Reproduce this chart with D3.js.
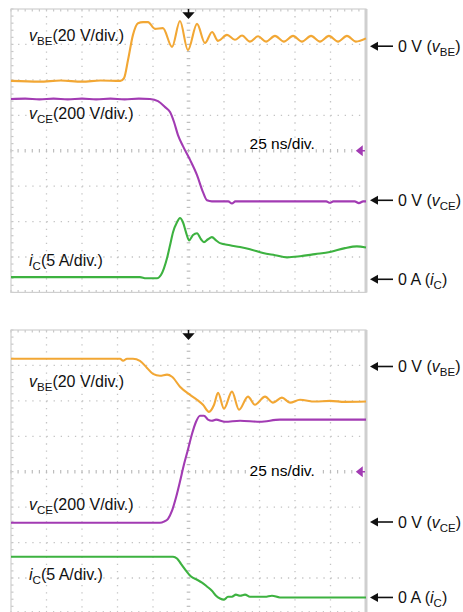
<!DOCTYPE html>
<html>
<head>
<meta charset="utf-8">
<script src="https://cdn.jsdelivr.net/npm/d3@7"></script>
<style>
  body { margin: 0; background: #fff; }
  text { font-family: "Liberation Sans", Arial, Helvetica, sans-serif; }
</style>
</head>
<body>
<div id="container"></div>
<script>
// time in ns (25 ns/div, 10 div), values in scope divisions (0 = centre line)
var onVbe = [[0,1.97],[20,1.95],[35,1.98],[50,1.95],[63,1.98],[77,1.97],[79.6,2.05],[82.4,2.56],[85.9,3.27],[89.4,3.60],[93,3.63],[96.5,3.63],[101.4,3.44],[107,3.46],[113.4,2.93],[119,3.66],[124.6,2.84],[131,3.58],[136.6,3.04],[141.6,3.35],[145.8,3.10],[152.1,3.27],[157.7,3.13],[162.7,3.25],[168.3,3.08],[174,3.23],[179.6,3.08],[185.9,3.24],[192.2,3.08],[198.6,3.24],[204.9,3.08],[211.3,3.24],[217.6,3.08],[223.9,3.24],[230.3,3.08],[236.6,3.24],[242.9,3.08],[250,3.17]];
var onVce = [[0,1.46],[10,1.47],[20,1.45],[30,1.47],[40,1.45],[50,1.47],[60,1.45],[70,1.47],[80,1.45],[90,1.47],[97.9,1.46],[103.5,1.40],[108.5,1.23],[112,1.09],[114.8,0.81],[117.6,0.44],[121.1,0.13],[126.1,-0.26],[131,-0.69],[135.2,-1.17],[138,-1.40],[141.5,-1.43],[153,-1.43],[155.6,-1.49],[158,-1.43],[222,-1.43],[224.6,-1.47],[227,-1.43],[242,-1.43],[245,-1.48],[248,-1.43],[250,-1.43]];
var onIc = [[0,-3.57],[90.8,-3.57],[95.1,-3.60],[102.8,-3.60],[105.6,-3.51],[107.7,-3.32],[109.9,-3.03],[112,-2.67],[114.1,-2.30],[116.9,-2.02],[119,-1.90],[121.1,-2.02],[123.2,-2.30],[125.4,-2.53],[128.2,-2.38],[131,-2.33],[133.8,-2.50],[135.9,-2.58],[138.7,-2.50],[141.5,-2.44],[144.4,-2.53],[147.2,-2.61],[154.2,-2.67],[161.3,-2.72],[168.3,-2.78],[177.5,-2.89],[185.9,-2.95],[194.4,-3.01],[203.5,-2.98],[214.1,-2.92],[224.6,-2.86],[235.2,-2.75],[243.6,-2.70],[250,-2.73]];

var offVbe = [[0,3.19],[76.8,3.19],[78.9,3.13],[81.7,3.19],[85.9,3.19],[90.8,3.13],[95.8,2.93],[100,2.76],[104.9,2.71],[109.9,2.74],[113.4,2.68],[119,2.40],[126.1,2.17],[131,2.03],[135.2,1.89],[139.4,1.69],[143,1.89],[145.8,2.23],[150,1.78],[155.6,2.26],[160.6,1.75],[166.9,2.12],[171.8,1.89],[178.9,2.12],[184.5,1.95],[190.8,2.09],[196.5,1.95],[203.5,2.03],[214.1,1.98],[224.6,2.00],[235.2,1.97],[250,1.98]];
var offVce = [[0,-1.44],[62.7,-1.44],[104.9,-1.44],[107.7,-1.41],[110.6,-1.33],[113.4,-1.10],[116.2,-0.73],[119,-0.28],[121.8,0.20],[124.6,0.62],[127.5,1.07],[130.3,1.41],[133.1,1.58],[135.9,1.58],[138.7,1.47],[141.5,1.44],[144.4,1.47],[150.7,1.41],[161.3,1.44],[175.3,1.41],[189.4,1.47],[203.5,1.47],[224.6,1.47],[250,1.47]];
var offIc = [[0,-2.40],[114.1,-2.40],[116.9,-2.45],[119.7,-2.60],[123.2,-2.79],[126.8,-2.96],[131,-3.05],[134.5,-3.13],[138,-3.24],[141.5,-3.36],[144.4,-3.50],[147.2,-3.58],[150,-3.61],[152.8,-3.53],[155.6,-3.53],[158.4,-3.47],[161.3,-3.50],[164.8,-3.47],[168.3,-3.53],[178.9,-3.53],[183.8,-3.50],[189.4,-3.55],[250,-3.55]];

// labels: [scope label text, subscript, scale], ground markers in divisions
var traceNames = ["BE", "CE", "C"];
var traceScales = ["(20 V/div.)", "(200 V/div.)", "(5 A/div.)"];
var groundText = ["0 V (", "0 V (", "0 A ("];
var onLabelLevels = [3.10, 0.89, -3.26];
var onGround = [2.95, -1.40, -3.63];
var offLabelLevels = [2.39, -1.08, -3.05];
var offGround = [2.97, -1.42, -3.55];

var colors = ["#f2a734", "#a23bb3", "#3db240"];

var width = 463, height = 612;
var svg = d3.select("#container").append("svg")
    .attr("width", width)
    .attr("height", height);

var panels = [
  {top: 9, series: [onVbe, onVce, onIc], labels: onLabelLevels, ground: onGround, nsLevel: 0.04},
  {top: 330, series: [offVbe, offVce, offIc], labels: offLabelLevels, ground: offGround, nsLevel: -0.12}
];

var left = 11, right = 366, panelH = 283.4;

panels.forEach(function (p) {
  var x = d3.scaleLinear().domain([0, 250]).range([left, right]);
  var y = d3.scaleLinear().domain([-4, 4]).range([p.top + panelH, p.top]);
  var g = svg.append("g");
  var minorX = 25 / 5, minorY = 0.2;

  // dotted grid
  d3.range(1, 10).filter(function (k) { return k != 5; }).forEach(function (k) {
    g.append("line")
      .attr("x1", x(k * 25)).attr("x2", x(k * 25))
      .attr("y1", y(4)).attr("y2", y(-4))
      .attr("stroke", "#c4c4c4").attr("stroke-width", 1.3)
      .attr("stroke-dasharray", "1.3," + (y(3.8) - y(4) - 1.3));
  });
  d3.range(-3, 4).filter(function (k) { return k != 0; }).forEach(function (k) {
    g.append("line")
      .attr("y1", y(k)).attr("y2", y(k))
      .attr("x1", x(0)).attr("x2", x(250))
      .attr("stroke", "#c4c4c4").attr("stroke-width", 1.3)
      .attr("stroke-dasharray", "1.3," + (x(5) - x(0) - 1.3));
  });

  // centre crosshair ticks
  d3.range(0, 250.1, minorX).forEach(function (t) {
    g.append("line")
      .attr("x1", x(t)).attr("x2", x(t))
      .attr("y1", y(0) - 1.8).attr("y2", y(0) + 1.8)
      .attr("stroke", "#bdbdbd").attr("stroke-width", 1.2);
    g.append("line")
      .attr("x1", x(t)).attr("x2", x(t))
      .attr("y1", y(4)).attr("y2", y(4) + 2.5)
      .attr("stroke", "#c8c8c8").attr("stroke-width", 1.2);
    g.append("line")
      .attr("x1", x(t)).attr("x2", x(t))
      .attr("y1", y(-4)).attr("y2", y(-4) - 2.5)
      .attr("stroke", "#c8c8c8").attr("stroke-width", 1.2);
  });
  d3.range(-4, 4.01, minorY).forEach(function (v) {
    g.append("line")
      .attr("y1", y(v)).attr("y2", y(v))
      .attr("x1", x(125) - 1.8).attr("x2", x(125) + 1.8)
      .attr("stroke", "#bdbdbd").attr("stroke-width", 1.2);
    g.append("line")
      .attr("y1", y(v)).attr("y2", y(v))
      .attr("x1", x(0)).attr("x2", x(0) + 2.5)
      .attr("stroke", "#c8c8c8").attr("stroke-width", 1.2);
  });

  // frame
  g.append("rect")
    .attr("x", x(0)).attr("y", y(4))
    .attr("width", x(250) - x(0)).attr("height", y(-4) - y(4))
    .attr("fill", "none").attr("stroke", "#cfcfcf").attr("stroke-width", 1.2);
  g.append("line")
    .attr("x1", x(250)).attr("x2", x(250))
    .attr("y1", y(4)).attr("y2", y(-4))
    .attr("stroke", "#cfcfcf").attr("stroke-width", 3);

  // time base text
  g.append("rect")
    .attr("x", x(167)).attr("y", y(p.nsLevel) - 11)
    .attr("width", 72).attr("height", 11)
    .attr("fill", "#fff");
  g.append("text")
    .attr("x", x(168)).attr("y", y(p.nsLevel))
    .attr("font-size", 15.5)
    .text("25 ns/div.");

  // trigger markers
  g.append("path")
    .attr("d", "M" + x(125) + "," + y(4) + "v4 m-4.5,0 h9 l-4.5,5 z")
    .attr("fill", "#111").attr("stroke", "#111").attr("stroke-width", 1.5);
  g.append("path")
    .attr("d", "M" + (x(250) - 1) + "," + y(0) + "h-3 m0,-4 v8 l-5,-4 z")
    .attr("fill", colors[1]).attr("stroke", colors[1]).attr("stroke-width", 1.5);

  // traces
  var line = d3.line()
    .x(function (d) { return x(d[0]); })
    .y(function (d) { return y(d[1]); })
    .curve(d3.curveMonotoneX);

  p.series.forEach(function (s, i) {
    g.append("path")
      .datum(s)
      .attr("d", line)
      .attr("fill", "none")
      .attr("stroke", colors[i])
      .attr("stroke-width", 2.1)
      .attr("stroke-linejoin", "round");
  });

  // trace labels
  traceNames.forEach(function (name, i) {
    var t = g.append("text")
      .attr("x", x(12.7)).attr("y", y(p.labels[i]))
      .attr("font-size", 16).attr("fill", "#111");
    t.append("tspan").attr("font-style", "italic").text(i == 2 ? "i" : "v");
    t.append("tspan").attr("font-size", 11.5).attr("dy", 4).text(name);
    t.append("tspan").attr("dy", -4).text(traceScales[i]);

    // ground level arrows at the right
    var gy = y(p.ground[i]);
    g.append("line")
      .attr("x1", 376).attr("x2", 393)
      .attr("y1", gy).attr("y2", gy)
      .attr("stroke", "#111").attr("stroke-width", 1.6);
    g.append("path")
      .attr("d", "M370," + gy + " l8,-4.5 v9 z")
      .attr("fill", "#111");
    var r = g.append("text")
      .attr("x", 398).attr("y", gy + 5.5)
      .attr("font-size", 16).attr("fill", "#111");
    r.append("tspan").text(groundText[i]);
    r.append("tspan").attr("font-style", "italic").text(i == 2 ? "i" : "v");
    r.append("tspan").attr("font-size", 11.5).attr("dy", 4).text(name);
    r.append("tspan").attr("dy", -4).text(")");
  });
});
</script>
</body>
</html>
